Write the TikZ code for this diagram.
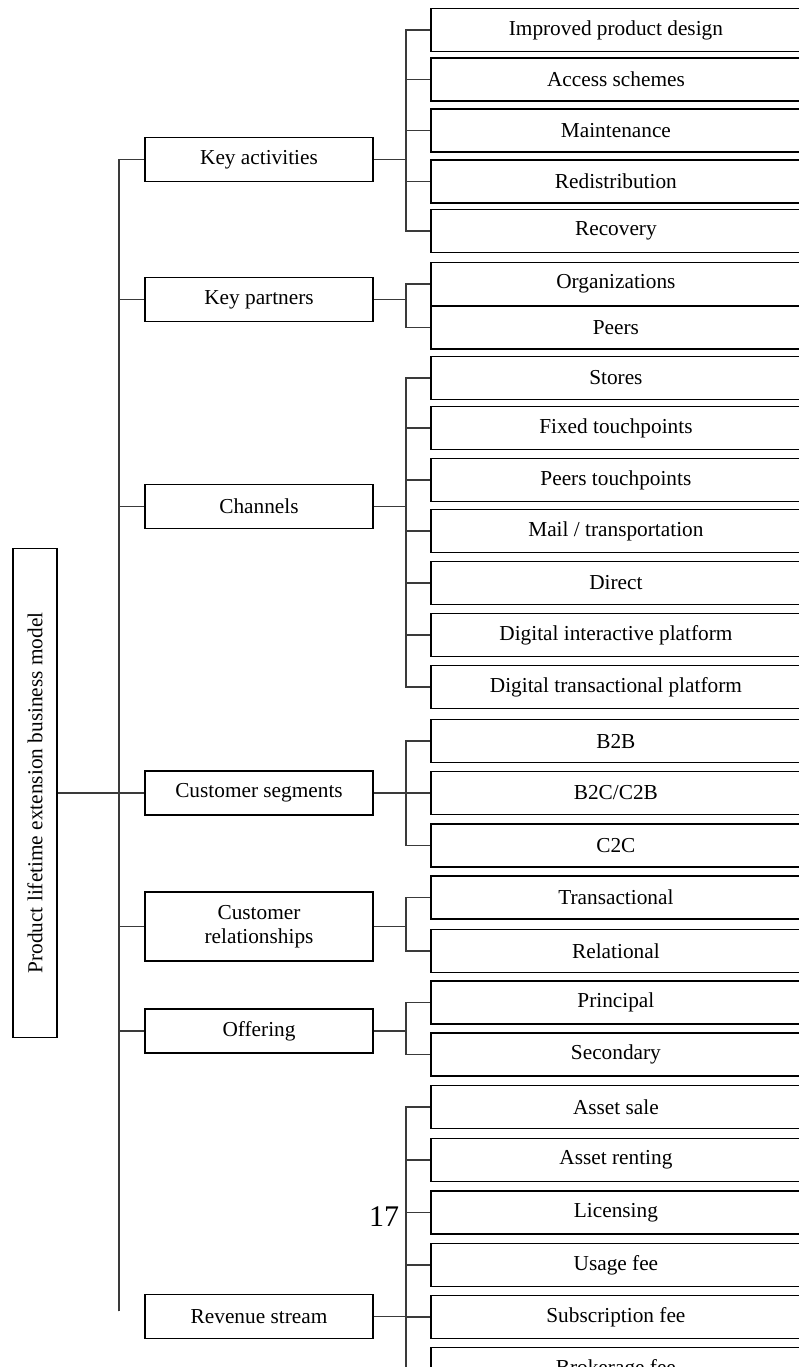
\documentclass[tikz,border=0pt]{standalone}
\usepackage{fontspec}
\setmainfont{Liberation Serif}
\definecolor{plelink}{HTML}{3A3A3A}

\begin{document}
\begin{tikzpicture}[x=1pt,y=-1pt,
  box/.style={draw,line width=1.8pt,inner sep=0pt,align=center,font=\fontsize{21.3}{24}\selectfont},
  midbox/.style={box,minimum width=228pt,minimum height=44pt},
  leaf/.style={box,anchor=west,minimum width=370pt,minimum height=43pt},
  link/.style={plelink,line width=1.2pt}]
\useasboundingbox (0,0) rectangle (798,1367);
% root
\node[box,rotate=90,minimum width=489pt,minimum height=44pt] (root) at (35,793) {Product lifetime extension business model};
% second level
\node[midbox] (ka) at (259,159.5) {Key activities};
\node[midbox] (kp) at (259,299.5) {Key partners};
\node[midbox] (ch) at (259,506.5) {Channels};
\node[midbox] (cs) at (259,793) {Customer segments};
\node[midbox,minimum height=69pt] (cr) at (259,926.5) {Customer\\relationships};
\node[midbox] (of) at (259,1031) {Offering};
\node[midbox] (rs) at (259,1316.5) {Revenue stream};
% leaves
\foreach \n/\y/\t in {ka1/30/Improved product design, ka2/79.5/Access schemes,
    ka3/130.5/Maintenance, ka4/181.5/Redistribution, ka5/231/Recovery,
    kp1/284/Organizations, kp2/327.5/Peers,
    ch1/378/Stores, ch2/428/Fixed touchpoints, ch3/480/Peers touchpoints,
    ch4/531/{Mail / transportation}, ch5/583/Direct,
    ch6/635/Digital interactive platform, ch7/687/Digital transactional platform,
    cs1/741/B2B, cs2/793/{B2C/C2B}, cs3/845.5/C2C,
    cr1/897.5/Transactional, cr2/951/Relational,
    of1/1002.5/Principal, of2/1054.5/Secondary,
    rs1/1107/Asset sale, rs2/1160/Asset renting, rs3/1212.5/Licensing,
    rs4/1265/Usage fee, rs5/1317/Subscription fee, rs6/1369/Brokerage fee}
  \node[leaf] (\n) at (430,\y) {\t};
% links
\coordinate (trunk) at (119,1311);
\draw[link] (root.south) -- (cs.west);
\foreach \m in {ka,kp,ch,cs,cr,of}
  \draw[link] (trunk) |- (\m.west);
\foreach \m/\ls in {ka/{ka1,ka2,ka3,ka4,ka5}, kp/{kp1,kp2},
    ch/{ch1,ch2,ch3,ch4,ch5,ch6,ch7}, cs/{cs1,cs2,cs3}, cr/{cr1,cr2},
    of/{of1,of2}, rs/{rs1,rs2,rs3,rs4,rs5,rs6}}
  \foreach \l in \ls
    \draw[link] (\m.east) -- ++(32,0) |- (\l.west);
\node[font=\fontsize{30}{36}\selectfont] (pg) at (384,1217) {17};
\end{tikzpicture}
\end{document}
